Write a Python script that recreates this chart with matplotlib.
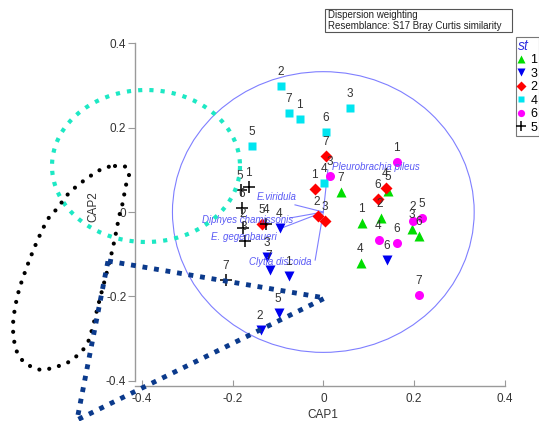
import numpy as np
import matplotlib
matplotlib.use("Agg")
import matplotlib.pyplot as plt
from matplotlib.lines import Line2D
from matplotlib.patches import Circle, Rectangle

plt.rcParams['font.family'] = ['Liberation Sans', 'DejaVu Sans']
plt.rcParams['axes.unicode_minus'] = False

# ---------------- data (CAP1, CAP2) ----------------
st1_x = [0.039, 0.143, 0.085, 0.127, 0.196, 0.211, 0.083]
st1_y = [0.047, 0.050, -0.026, -0.014, -0.040, -0.057, -0.121]
st1_lab = ['7', '5', '1', '2', '3', '6', '4']

st3_x = [0.141, -0.096, -0.124, -0.118, -0.076, -0.098, -0.138]
st3_y = [-0.114, -0.038, -0.107, -0.138, -0.152, -0.240, -0.280]
st3_lab = ['6', '4', '3', '7', '1', '5', '2']

st2_x = [0.006, -0.018, 0.121, 0.138, -0.012, 0.004, -0.135]
st2_y = [0.133, 0.055, 0.031, 0.057, -0.009, -0.021, -0.028]
st2_lab = ['7', '1', '6', '4', '2', '3', '5']

st4_x = [-0.093, -0.076, -0.051, 0.059, 0.006, -0.157, 0.002]
st4_y = [0.299, 0.235, 0.221, 0.247, 0.190, 0.157, 0.069]
st4_lab = ['2', '7', '1', '3', '6', '5', '4']

st6_x = [0.163, 0.015, 0.198, 0.218, 0.123, 0.163, 0.211]
st6_y = [0.119, 0.085, -0.021, -0.014, -0.066, -0.074, -0.197]
st6_lab = ['1', '3', '2', '5', '4', '6', '7']

st5_x = [-0.164, -0.182, -0.179, -0.177, -0.173, -0.126, -0.215]
st5_y = [0.059, 0.052, 0.009, -0.038, -0.069, -0.028, -0.161]
st5_lab = ['1', '5', '6', '2', '3', '4', '7']

species = ['E.viridula', 'Diphyes chamissonis', 'E. gegenbaueri',
           'Clytia discoida', 'Pleurobrachia pileus']
vec_x = [-0.0625, -0.073, -0.092, -0.018, 0.010]
vec_y = [0.017, -0.014, -0.038, -0.114, 0.100]
circle_r = 0.333

legend_title = 'st'
legend_labels = ['1', '3', '2', '4', '6', '5']
x_ticks = [-0.4, -0.2, 0, 0.2, 0.4]
y_ticks = [-0.4, -0.2, 0, 0.2, 0.4]
info_lines = ['Dispersion weighting', 'Resemblance: S17 Bray Curtis similarity']

# ---------------- figure ----------------
W, H = 539, 421
fig = plt.figure(figsize=(W / 100, H / 100), dpi=100)
ax = fig.add_axes([135.3 / W, 1 - 386.1 / H, (513.6 - 135.3) / W, (386.1 - 35) / H])
ax.set_xlim(-0.415, 0.42)
ax.set_ylim(-0.413, 0.42)

for s in ['top', 'right']:
    ax.spines[s].set_visible(False)
for s in ['left', 'bottom']:
    ax.spines[s].set_color('#9a9a9a')
    ax.spines[s].set_linewidth(1.0)
ax.spines['left'].set_bounds(-0.4, 0.4)
ax.spines['bottom'].set_bounds(-0.415, 0.4)

ax.set_xticks(x_ticks)
ax.set_yticks(y_ticks)
ax.set_xticklabels(['%g' % v for v in x_ticks])
ax.set_yticklabels(['%g' % v for v in y_ticks])
ax.tick_params(axis='x', direction='in', length=4, color='#9a9a9a', labelsize=8.5,
               labelcolor='#333333', pad=5)
ax.tick_params(axis='y', direction='out', length=5, color='#9a9a9a', labelsize=8.5,
               labelcolor='#333333', pad=1.5)
ax.set_xlabel('CAP1', fontsize=8.5, color='#333333')
ax.set_ylabel('CAP2', fontsize=8.5, color='#333333')
ax.xaxis.set_label_coords(0.496, -0.065)
ax.yaxis.set_label_coords(-0.095, 0.51)
ax.patch.set_alpha(0)

# correlation circle and vectors
vcol = '#7f7fff'
ax.add_patch(Circle((0, 0), circle_r, fill=False, ec=vcol, lw=0.8, zorder=1))
for vx, vy in zip(vec_x, vec_y):
    ax.plot([0, vx], [0, vy], color=vcol, lw=0.8, zorder=1)

tcol = '#5a5af5'
lab_pos = [(-0.058, 0.036, 'right'), (-0.067, -0.019, 'right'), (-0.102, -0.059, 'right'),
           (-0.095, -0.119, 'center'), (0.019, 0.107, 'left')]
for name, (lx, ly, ha) in zip(species, lab_pos):
    ax.text(lx, ly, name, color=tcol, fontsize=7, style='italic', ha=ha, va='center', zorder=4)

groups = [
    (st1_x, st1_y, st1_lab, dict(marker='^', color='#00dd00', ms=7.5, mec='none')),
    (st3_x, st3_y, st3_lab, dict(marker='v', color='#0000f0', ms=7.5, mec='none')),
    (st2_x, st2_y, st2_lab, dict(marker='D', color='#ff0000', ms=6, mec='none')),
    (st4_x, st4_y, st4_lab, dict(marker='s', color='#00e5f0', ms=6, mec='none')),
    (st6_x, st6_y, st6_lab, dict(marker='o', color='#ff00ff', ms=6.5, mec='none')),
    (st5_x, st5_y, st5_lab, dict(marker='+', color='black', ms=9, mew=1.1)),
]
handles = []
for gx, gy, gl, sty in groups:
    ax.plot(gx, gy, ls='none', zorder=3, **sty)
    for x, y, l in zip(gx, gy, gl):
        ax.annotate(l, (x, y), xytext=(-0.5, 10), textcoords='offset points',
                    ha='center', va='center', fontsize=8.5, color='#333333', zorder=5)
    handles.append(Line2D([], [], ls='none', **sty))

leg = fig.legend(handles, legend_labels, title=legend_title, loc='upper left',
                 bbox_to_anchor=(516 / W, 1 - 37 / H), bbox_transform=fig.transFigure,
                 borderaxespad=0, fancybox=False, framealpha=1, edgecolor='#777777',
                 fontsize=9, handlelength=0.55, handletextpad=0.45, borderpad=0.15,
                 labelspacing=0.08, markerscale=0.8, alignment='left', handleheight=0.9)
leg.get_title().set_fontsize(10)
leg.get_title().set_style('italic')
leg.get_title().set_color('#3030e0')
leg.get_frame().set_linewidth(0.8)

# info box
fig.add_artist(Rectangle((325 / W, 1 - 32 / H), (512 - 325) / W, 23 / H, transform=fig.transFigure,
                         fill=False, ec='#555555', lw=0.8))
fig.text(328 / W, 1 - 14.5 / H, info_lines[0], fontsize=7, color='#222222', va='center')
fig.text(328 / W, 1 - 26 / H, info_lines[1], fontsize=7, color='#222222', va='center')

# ---------------- annotation overlays (drawn in pixel space) ----------------
def to_fig(px, py):
    return np.asarray(px) / W, 1 - np.asarray(py) / H

def catmull_closed(pts, n=16):
    P = np.array(pts, float)
    N = len(P)
    out = []
    t = np.linspace(0, 1, n, endpoint=False)[:, None]
    for i in range(N):
        p0, p1, p2, p3 = P[i - 1], P[i], P[(i + 1) % N], P[(i + 2) % N]
        out.append(0.5 * (2 * p1 + (-p0 + p2) * t + (2 * p0 - 5 * p1 + 4 * p2 - p3) * t ** 2
                          + (-p0 + 3 * p1 - 3 * p2 + p3) * t ** 3))
    out.append(P[:1])
    return np.vstack(out)

# cyan dotted ellipse
th = np.linspace(0, 2 * np.pi, 400)
cx, cy = to_fig(146 + 94 * np.cos(th), 166 + 76 * np.sin(th))
fig.add_artist(Line2D(cx, cy, color='#1de8c4', lw=3.0, ls=(0, (1, 1.7)),
                      dash_capstyle='butt', transform=fig.transFigure, zorder=10))

# black dotted loop
loop = [(115, 166), (126, 167), (129, 175), (126, 185), (124, 196), (122, 206), (119, 217),
        (115, 238), (110, 260), (104, 283), (98, 306), (93, 326), (88, 342), (80, 353),
        (67, 363), (55, 367), (43, 370), (32, 367), (23, 361), (17, 352), (14, 340),
        (13, 325), (15, 308), (19, 290), (25, 272), (31, 256), (39, 237), (48, 219),
        (55, 211), (62, 202), (69, 193), (77, 186), (86, 179), (95, 173), (104, 168)]
lp = catmull_closed(loop)
bx, by = to_fig(lp[:, 0], lp[:, 1])
fig.add_artist(Line2D(bx, by, color='black', lw=3.0, ls=(0, (0.01, 2.4)),
                      dash_capstyle='round', transform=fig.transFigure, zorder=10))

# navy dotted triangle
tri = np.array([(108, 261), (325, 298), (77, 420), (108, 261)], float)
nx, ny = to_fig(tri[:, 0], tri[:, 1])
fig.add_artist(Line2D(nx, ny, color='#0b3a8c', lw=3.5, ls=(0, (1, 1.4)),
                      dash_capstyle='butt', transform=fig.transFigure, zorder=10))

fig.savefig('out.png', dpi=100)
